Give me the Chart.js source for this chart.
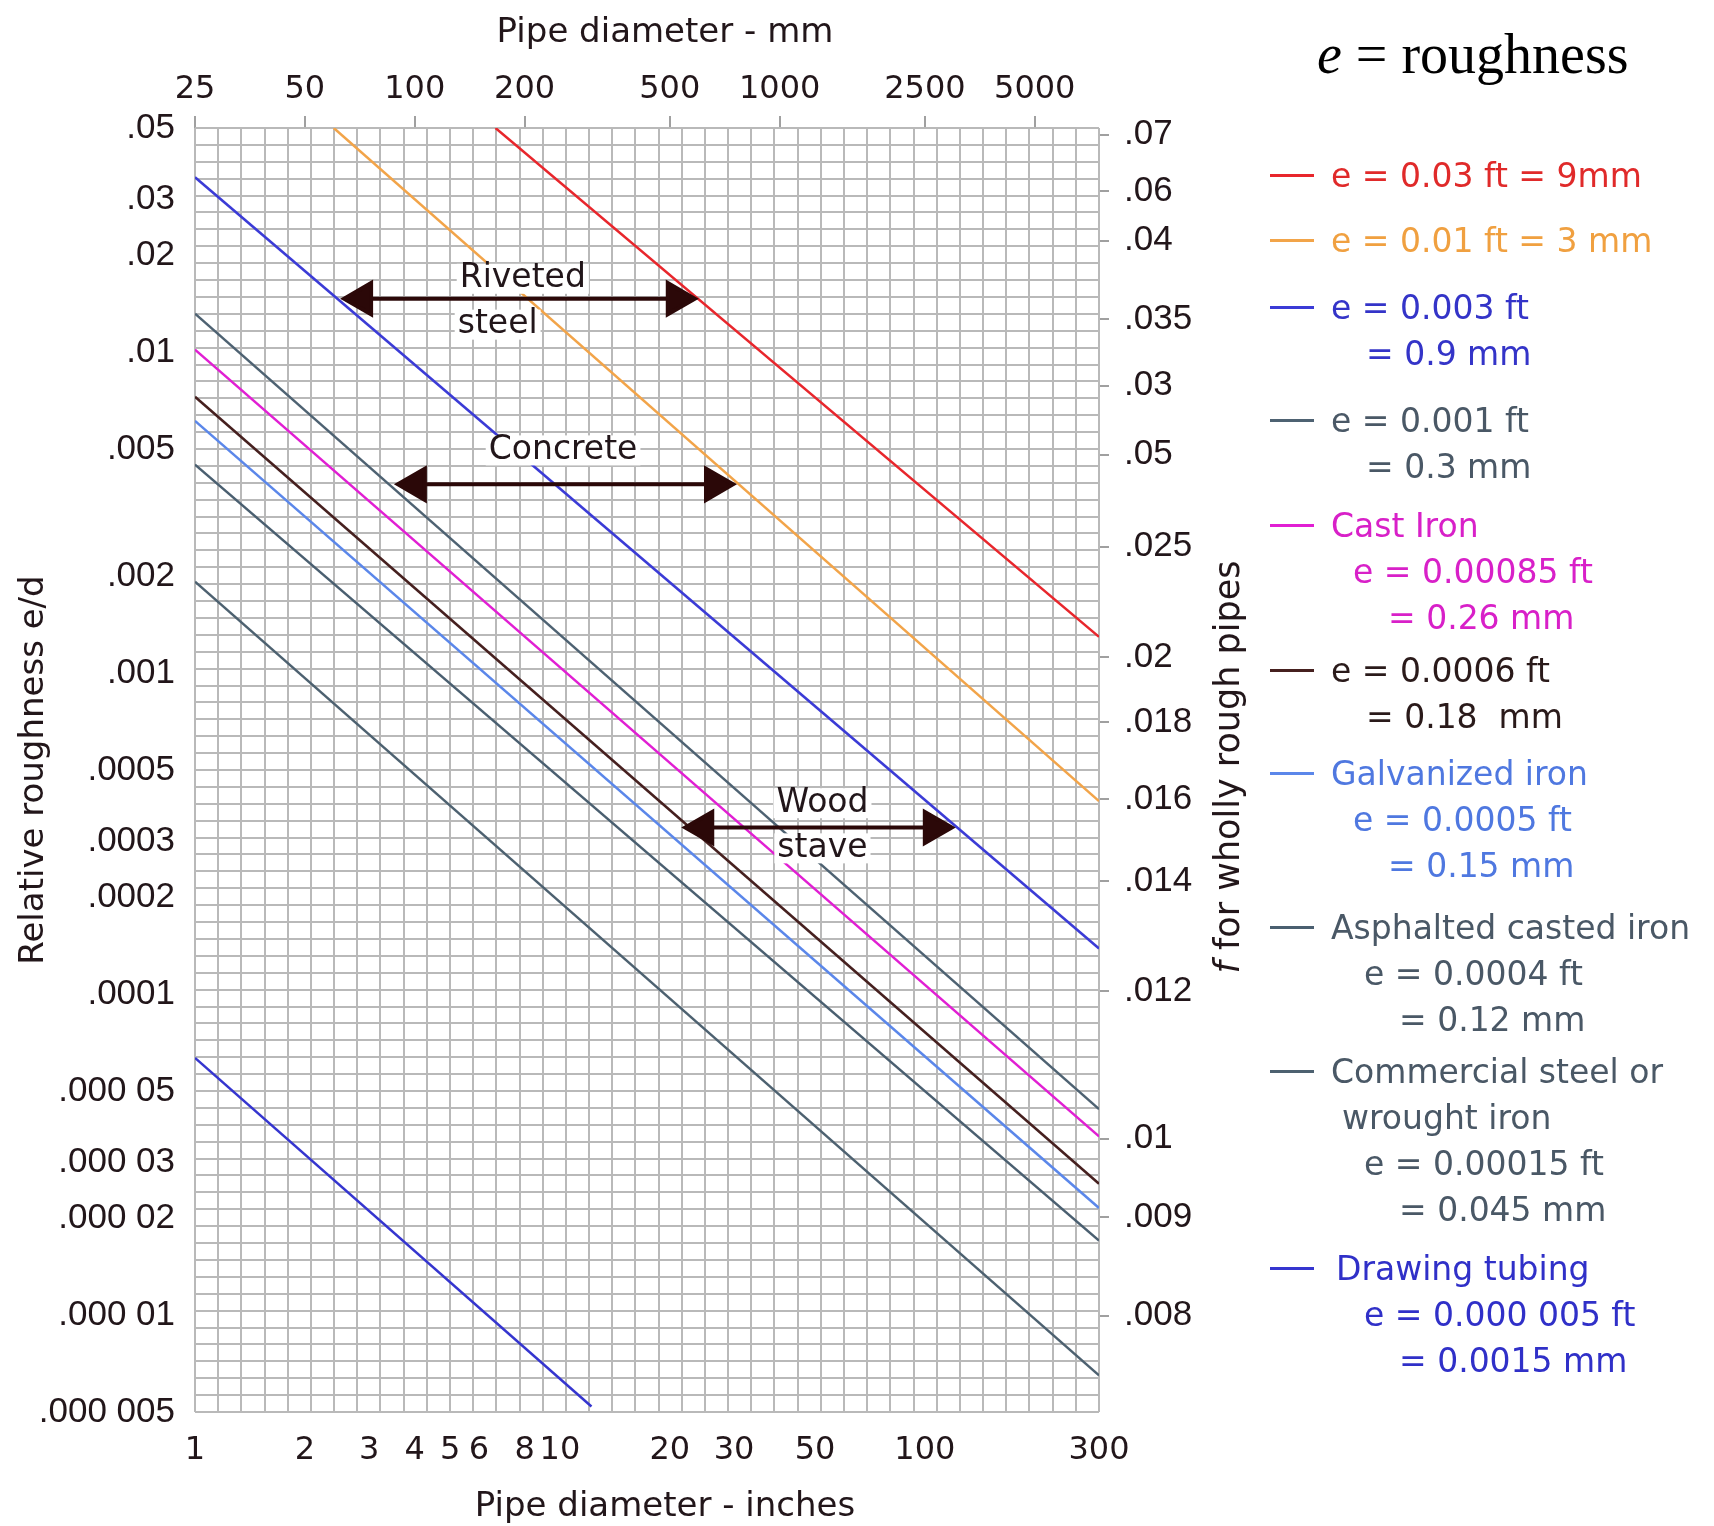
<!DOCTYPE html>
<html>
<head>
<meta charset="utf-8">
<script src="https://cdn.jsdelivr.net/npm/chart.js@4.4.0/dist/chart.umd.min.js"></script>
<style>
  html, body { margin: 0; padding: 0; background: #fff; }
  #wrap { position: relative; width: 1714px; height: 1526px; }
  #heading { position: absolute; left: 1317px; top: 22px; font-family: "Liberation Serif", serif; font-size: 56px; color: #000; white-space: pre; }
  .xt { position: absolute; left: 365px; width: 600px; height: 40px; line-height: 40px; text-align: center;
        font-family: "DejaVu Sans"; font-size: 34px; color: #22161a; white-space: pre; }
  #ftitle { position: absolute; left: 977px; top: 747px; width: 500px; height: 40px; line-height: 40px; text-align: center;
            transform: rotate(-90deg); font-family: "DejaVu Sans"; font-size: 35px; color: #22161a; white-space: pre; }
  .lg { position: absolute; font-family: "DejaVu Sans"; font-size: 33px; line-height: 1; white-space: pre; }
  .mk { position: absolute; width: 44px; height: 3px; }
</style>
</head>
<body>
<div id="wrap">
  <canvas id="myChart"></canvas>
  <div class="xt" style="top: 10px;">Pipe diameter - mm</div>
  <div class="xt" style="top: 1484px;">Pipe diameter - inches</div>
  <div id="heading"><i>e</i> = roughness</div>
  <div id="ftitle"><i>f</i> for wholly rough pipes</div>
  <div id="legend"></div>
</div>
<script>
// axis ticks
var inchTicks = [1, 2, 3, 4, 5, 6, 8, 10, 20, 30, 50, 100, 300];
var mmTicks = [25, 50, 100, 200, 500, 1000, 2500, 5000];
var edTicks = [0.05, 0.03, 0.02, 0.01, 0.005, 0.002, 0.001, 0.0005, 0.0003, 0.0002, 0.0001, 0.00005, 0.00003, 0.00002, 0.00001, 0.000005];
var edLabels = ['.05', '.03', '.02', '.01', '.005', '.002', '.001', '.0005', '.0003', '.0002', '.0001', '.000 05', '.000 03', '.000 02', '.000 01', '.000 005'];
// friction factor labels on the right, placed at the e/d they line up with
var fLabels = ['.07', '.06', '.04', '.035', '.03', '.05', '.025', '.02', '.018', '.016', '.014', '.012', '.01', '.009', '.008'];
var fAtEd = [0.0477, 0.0318, 0.0223, 0.0127, 0.00787, 0.0048, 0.00248, 0.001125, 0.000703, 0.000406, 0.000225, 0.0001023, 0.0000355, 0.0000202, 0.00000998];

// roughness lines: pipe diameter (in) and e/d at both ends
var materials = ['e = 0.03 ft', 'e = 0.01 ft', 'e = 0.003 ft', 'e = 0.001 ft', 'Cast iron', 'e = 0.0006 ft',
                 'Galvanized iron', 'Asphalted casted iron', 'Commercial steel', 'Drawing tubing'];
var lineD = [[6.66, 300], [2.40, 300], [1, 300], [1, 300], [1, 300], [1, 300], [1, 300], [1, 300], [1, 300], [1, 12.2]];
var lineEd = [[0.05, 0.0013], [0.05, 0.0004], [0.0351, 0.000139], [0.0132, 0.0000439], [0.0102, 0.0000361],
              [0.00727, 0.0000257], [0.00612, 0.0000216], [0.00447, 0.0000171], [0.00193, 0.0000065], [0.0000634, 0.0000052]];
var lineColors = ['#e8262c', '#f2a449', '#3b3bd6', '#4e6272', '#e11fd3', '#46201f', '#5b87ea', '#4a5f70', '#4d6170', '#3535cf'];

// range arrows and their labels
var arrowD = [[2.87, 20.9], [4.03, 26.6], [24.7, 105.8]];
var arrowEd = [0.0147, 0.00388, 0.000331];
var noteText = ['Riveted', 'steel', 'Concrete', 'Wood', 'stave'];
var noteD = [7.91, 6.75, 10.2, 52.4, 52.4];
var noteEd = [0.01695, 0.0122, 0.00495, 0.000394, 0.000285];

// legend text
var legendLines = [
  ['e = 0.03 ft = 9mm'],
  ['e = 0.01 ft = 3 mm'],
  ['e = 0.003 ft', '= 0.9 mm'],
  ['e = 0.001 ft', '= 0.3 mm'],
  ['Cast Iron', 'e = 0.00085 ft', '= 0.26 mm'],
  ['e = 0.0006 ft', '= 0.18  mm'],
  ['Galvanized iron', 'e = 0.0005 ft', '= 0.15 mm'],
  ['Asphalted casted iron', 'e = 0.0004 ft', '= 0.12 mm'],
  ['Commercial steel or', 'wrought iron', 'e = 0.00015 ft', '= 0.045 mm'],
  ['Drawing tubing', 'e = 0.000 005 ft', '= 0.0015 mm']
];
var legendTextColors = ['#e02a2a', '#f0a040', '#3434c8', '#4a5866', '#d820c8', '#2a1a1a', '#4f78e0', '#4a5866', '#4a5866', '#3030c8'];

// layout of the legend block
var legendTop = [175, 240, 307, 420, 525, 670, 773, 927, 1071, 1268];
var legendX = [[1331], [1331], [1331, 1366], [1331, 1366], [1331, 1353, 1388], [1331, 1366],
               [1331, 1353, 1388], [1331, 1364, 1399], [1331, 1342, 1364, 1399], [1336, 1364, 1399]];
var legendStep = 46;

var textColor = '#22161a';
var gridColor = '#b9b9b9';
var gridCols = 39, gridRows = 76;

var legend = document.getElementById('legend');
legendLines.forEach(function (lines, i) {
  var mk = document.createElement('div');
  mk.className = 'mk';
  mk.style.left = '1270px';
  mk.style.top = (legendTop[i] - 1) + 'px';
  mk.style.background = lineColors[i];
  legend.appendChild(mk);
  lines.forEach(function (t, j) {
    var d = document.createElement('div');
    d.className = 'lg';
    d.textContent = t;
    d.style.left = legendX[i][j] + 'px';
    d.style.top = (legendTop[i] + j * legendStep - 16) + 'px';
    d.style.color = legendTextColors[i];
    legend.appendChild(d);
  });
});

var datasets = [];
for (var i = 0; i < materials.length; i++) {
  datasets.push({
    label: materials[i],
    data: [{x: lineD[i][0], y: lineEd[i][0]}, {x: lineD[i][1], y: lineEd[i][1]}],
    borderColor: lineColors[i],
    borderWidth: 2.5,
    pointRadius: 0,
    xAxisID: 'x', yAxisID: 'y',
    order: 1
  });
}
for (var k = 0; k < arrowD.length; k++) {
  datasets.push({
    label: 'range' + k,
    data: [{x: arrowD[k][0], y: arrowEd[k]}, {x: arrowD[k][1], y: arrowEd[k]}],
    borderColor: '#2b0808',
    backgroundColor: '#2b0808',
    borderWidth: 4,
    pointStyle: 'triangle',
    pointRadius: 18,
    pointRotation: [-90, 90],
    xAxisID: 'x', yAxisID: 'y',
    order: 0
  });
}

// white-backed labels drawn over the roughness lines, under the arrows
var notesPlugin = {
  id: 'notes',
  afterDatasetDraw: function (chart, args) {
    if (args.index !== 0) return;
    var ctx = chart.ctx, sx = chart.scales.x, sy = chart.scales.y;
    ctx.save();
    ctx.font = '33px "DejaVu Sans"';
    ctx.textAlign = 'center';
    ctx.textBaseline = 'middle';
    noteText.forEach(function (t, n) {
      var px = sx.getPixelForValue(noteD[n]);
      var py = sy.getPixelForValue(noteEd[n]);
      var w = ctx.measureText(t).width;
      ctx.fillStyle = '#fff';
      ctx.fillRect(px - w / 2 - 3, py - 15, w + 6, 30);
      ctx.fillStyle = textColor;
      ctx.fillText(t, px, py);
    });
    ctx.restore();
  }
};

new Chart('myChart', {
  type: 'line',
  data: { datasets: datasets },
  options: {
    responsive: true,
    maintainAspectRatio: false,
    animation: false,
    layout: { padding: { left: 0, right: 455, top: 0, bottom: 0 } },
    plugins: { legend: { display: false }, tooltip: { enabled: false } },
    scales: {
      x: {
        type: 'logarithmic', position: 'bottom', min: 1, max: 300,
        afterBuildTicks: function (s) { s.ticks = inchTicks.map(function (v) { return {value: v}; }); },
        ticks: { autoSkip: false, maxRotation: 0, padding: 19, color: textColor,
                 font: { family: 'DejaVu Sans', size: 32 }, callback: function (v) { return String(v); } },
        grid: { display: false, drawTicks: false },
        border: { display: false },
        afterFit: function (s) { s.height = 114; }
      },
      xTop: {
        type: 'logarithmic', position: 'top', min: 25, max: 7500,
        afterBuildTicks: function (s) { s.ticks = mmTicks.map(function (v) { return {value: v}; }); },
        ticks: { autoSkip: false, maxRotation: 0, padding: 7, color: textColor,
                 font: { family: 'DejaVu Sans', size: 32 }, callback: function (v) { return String(v); } },
        grid: { drawOnChartArea: false, drawTicks: true, tickLength: 12, color: '#a0a0a0', lineWidth: 2 },
        border: { display: false },
        afterFit: function (s) { s.height = 128; }
      },
      y: {
        type: 'logarithmic', position: 'left', min: 0.000005, max: 0.05,
        afterBuildTicks: function (s) { s.ticks = edTicks.map(function (v) { return {value: v}; }); },
        ticks: { autoSkip: false, padding: 20, color: textColor,
                 font: { family: 'Liberation Sans', size: 35 },
                 callback: function (v) { return edLabels[edTicks.indexOf(v)]; } },
        grid: { display: false, drawTicks: false },
        border: { display: false },
        title: { display: true, text: 'Relative roughness e/d', color: textColor,
                 font: { family: 'DejaVu Sans', size: 34 }, padding: { top: 14, bottom: 0 } },
        afterFit: function (s) { s.width = 195; }
      },
      yRight: {
        type: 'logarithmic', position: 'right', min: 0.000005, max: 0.05,
        afterBuildTicks: function (s) { s.ticks = fAtEd.map(function (v) { return {value: v}; }); },
        ticks: { autoSkip: false, padding: 15, color: textColor,
                 font: { family: 'Liberation Sans', size: 35 },
                 callback: function (v, idx) { return fLabels[idx]; } },
        grid: { drawOnChartArea: false, drawTicks: true, tickLength: 10, color: '#a0a0a0', lineWidth: 2 },
        border: { display: false },
        afterFit: function (s) { s.width = 160; }
      },
      gx: {
        type: 'linear', position: 'bottom', min: 0, max: gridCols,
        ticks: { display: false, stepSize: 1, maxTicksLimit: 500 },
        grid: { color: gridColor, lineWidth: 2, drawTicks: false },
        border: { display: false },
        afterFit: function (s) { s.height = 0; }
      },
      gy: {
        type: 'linear', position: 'left', min: 0, max: gridRows,
        ticks: { display: false, stepSize: 1, maxTicksLimit: 500 },
        grid: { color: gridColor, lineWidth: 2, drawTicks: false },
        border: { display: false },
        afterFit: function (s) { s.width = 0; }
      }
    }
  },
  plugins: [notesPlugin]
});
</script>
</body>
</html>
